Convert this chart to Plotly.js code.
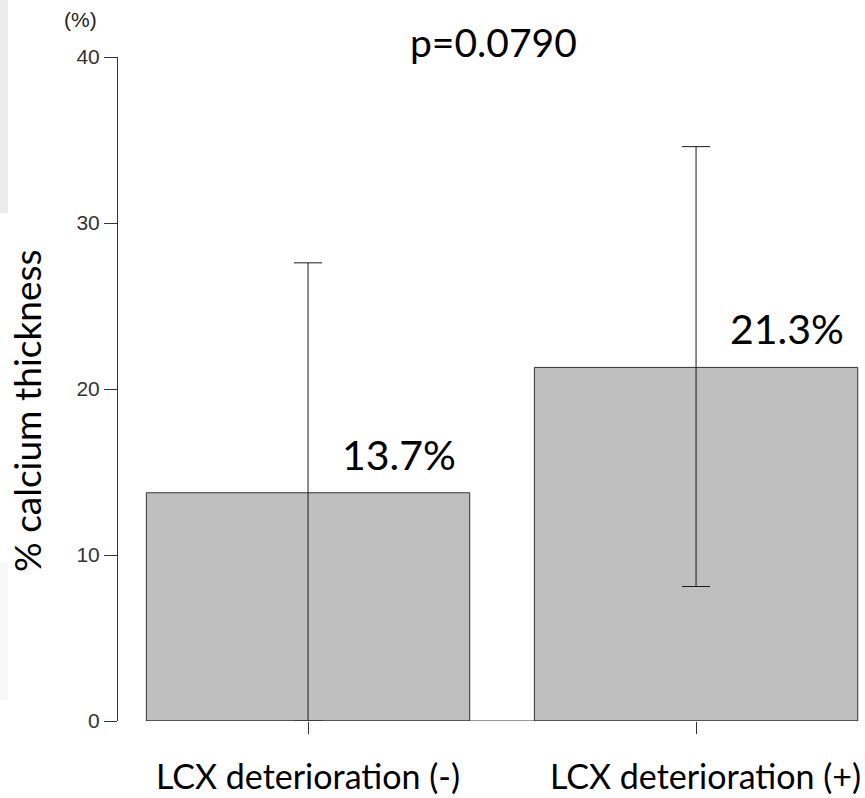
<!DOCTYPE html>
<html>
<head>
<meta charset="utf-8">
<script src="https://cdn.plot.ly/plotly-3.0.1.min.js"></script>
<style>html,body{margin:0;padding:0;background:#fff;}#chart{width:865px;height:798px;}</style>
</head>
<body>
<div id="chart"></div>
<script>
// Data
const categories = ["LCX deterioration (-)", "LCX deterioration (+)"];
const barPositions = [0.7, 1.9];
const meanValues = [13.75, 21.3];
const sdPlus = [13.85, 13.3];
const sdMinus = [13.75, 13.2];
const valueLabels = ["13.7%", "21.3%"];
const yTickValues = [0, 10, 20, 30, 40];
const pValueText = "p=0.0790";
const yAxisTitle = "% calcium thickness";
const yUnitText = "(%)";

const FONT = "Lato, 'Open Sans', sans-serif";
const SMALL_FONT = "'Liberation Sans', Arial, sans-serif";

const trace = {
  type: "bar",
  x: barPositions,
  y: meanValues,
  width: 1,
  marker: { color: "#bfbfbf", line: { color: "#333333", width: 1 } },
  error_y: {
    type: "data",
    symmetric: false,
    array: sdPlus,
    arrayminus: sdMinus,
    color: "#1a1a1a",
    thickness: 1,
    width: 14
  },
  hoverinfo: "skip"
};

const annotations = [];
categories.forEach((c, i) => {
  annotations.push({
    text: c, x: barPositions[i], xref: "x", y: 0, yref: "paper",
    xanchor: "center", yanchor: "top", yshift: -32, xshift: i === 0 ? 0 : 9,
    showarrow: false, font: { family: FONT, size: 34, color: "#000" }
  });
  annotations.push({
    text: valueLabels[i], x: barPositions[i], xref: "x", y: meanValues[i], yref: "y",
    xanchor: "center", yanchor: "bottom", xshift: 91, yshift: 12,
    showarrow: false, font: { family: FONT, size: 41, color: "#000" }
  });
});
annotations.push({
  text: pValueText, x: (494 - 118) / 742, xref: "paper", y: 1, yref: "paper",
  xanchor: "center", yanchor: "bottom", yshift: -10,
  showarrow: false, font: { family: FONT, size: 39, color: "#000" }
});
annotations.push({
  text: yAxisTitle, x: (26 - 118) / 742, xref: "paper", y: (721 - 411) / 664, yref: "paper",
  xanchor: "center", yanchor: "middle", textangle: -90,
  showarrow: false, font: { family: FONT, size: 37, color: "#000" }
});
annotations.push({
  text: yUnitText, x: (80 - 118) / 742, xref: "paper", y: (721 - 20) / 664, yref: "paper",
  xanchor: "center", yanchor: "middle",
  showarrow: false, font: { family: SMALL_FONT, size: 21, color: "#222" }
});

const shapes = [
  { type: "line", xref: "x", yref: "y", x0: 0.2, x1: 2.4, y0: 0, y1: 0,
    line: { color: "#333333", width: 1 }, layer: "above" },
  { type: "rect", xref: "paper", yref: "paper", x0: -118 / 742, x1: (8 - 118) / 742,
    y0: (721 - 213) / 664, y1: 721 / 664, fillcolor: "#ececec", line: { width: 0 }, layer: "below" },
  { type: "rect", xref: "paper", yref: "paper", x0: -118 / 742, x1: (8 - 118) / 742,
    y0: (721 - 700) / 664, y1: (721 - 563) / 664, fillcolor: "#f8f8f8", line: { width: 0 }, layer: "below" }
];

const layout = {
  width: 865, height: 798,
  margin: { l: 118, r: 5, t: 57, b: 77, pad: 0 },
  paper_bgcolor: "#ffffff", plot_bgcolor: "#ffffff",
  showlegend: false,
  xaxis: {
    range: [0.1123, 2.407], showgrid: false, zeroline: false, showline: false,
    tickmode: "array", tickvals: barPositions, ticktext: ["", ""],
    ticks: "outside", ticklen: 12, tickcolor: "#333333", tickwidth: 1, showticklabels: false,
    fixedrange: true
  },
  yaxis: {
    range: [0, 40], showgrid: false, zeroline: false, showline: true,
    linecolor: "#333333", linewidth: 1,
    tickmode: "array", tickvals: yTickValues, ticktext: yTickValues.map(String),
    ticks: "outside", ticklen: 13, tickcolor: "#333333", tickwidth: 1,
    tickfont: { family: SMALL_FONT, size: 21, color: "#333" },
    fixedrange: true
  },
  annotations: annotations,
  shapes: shapes
};

Plotly.newPlot("chart", [trace], layout, { displayModeBar: false, staticPlot: true });
</script>
</body>
</html>
